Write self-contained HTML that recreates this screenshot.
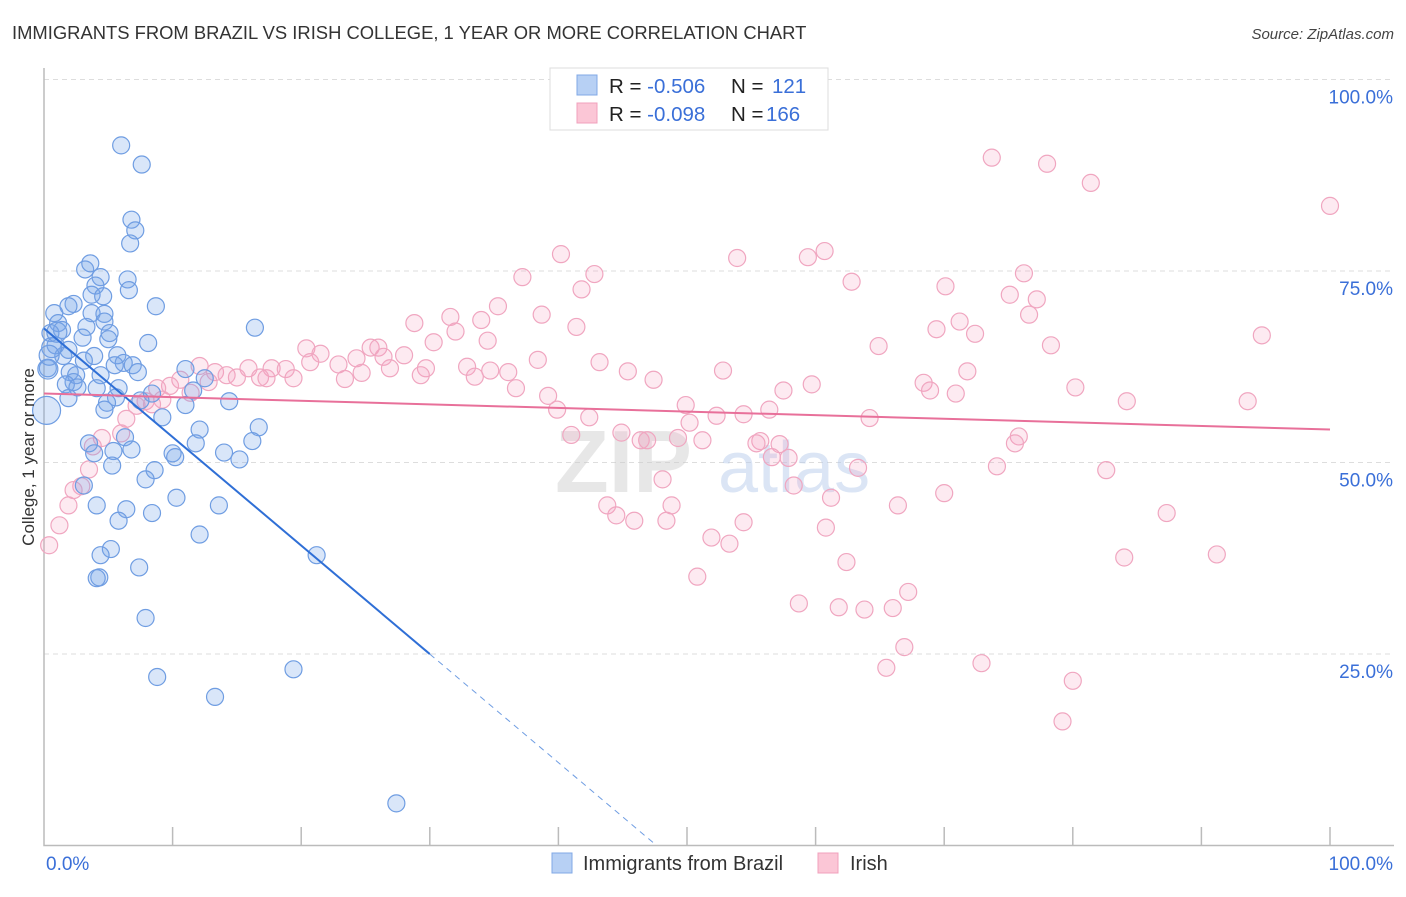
<!DOCTYPE html>
<html><head><meta charset="utf-8"><style>
body{margin:0;background:#fff;font-family:"Liberation Sans",sans-serif}
svg text{font-family:"Liberation Sans",sans-serif}
</style></head><body>
<svg id="chart" width="1406" height="892" viewBox="0 0 1406 892" xmlns="http://www.w3.org/2000/svg">
<text x="12" y="39" font-size="18.4" fill="#333">IMMIGRANTS FROM BRAZIL VS IRISH COLLEGE, 1 YEAR OR MORE CORRELATION CHART</text>
<text x="1394" y="39" font-size="15" fill="#444" text-anchor="end" font-style="italic">Source: ZipAtlas.com</text>
<g id="grid"></g>
<text x="555" y="492" font-size="88" fill="#ccc" opacity="0.45" font-weight="bold">ZIP</text>
<text x="718" y="492" font-size="72" fill="#b8cdec" opacity="0.5">atlas</text>
<g id="axes"></g>
<g id="pink"></g>
<g id="blue"></g>
<g id="lines"></g>
<text transform="translate(34,457) rotate(-90)" font-size="17" fill="#333" text-anchor="middle">College, 1 year or more</text>
<g>
<rect x="550" y="68" width="278" height="62" fill="#fff" stroke="#ddd"/>
<rect x="577" y="75" width="20" height="20" fill="#b7d0f4" stroke="#80a8e6"/>
<rect x="577" y="103" width="20" height="20" fill="#fbc6d6" stroke="#f0a0bc"/>
<text x="609" y="93" font-size="20.5" fill="#222">R = <tspan fill="#3a6fd8">-0.506</tspan><tspan x="731">N = </tspan><tspan x="772" fill="#3a6fd8">121</tspan></text>
<text x="609" y="121" font-size="20.5" fill="#222">R = <tspan fill="#3a6fd8">-0.098</tspan><tspan x="731">N = </tspan><tspan x="766" fill="#3a6fd8">166</tspan></text>
</g>
<g>
<rect x="552" y="853" width="20" height="20" fill="#b7d0f4" stroke="#80a8e6"/>
<text x="583" y="870" font-size="20" fill="#333">Immigrants from Brazil</text>
<rect x="818" y="853" width="20" height="20" fill="#fbc6d6" stroke="#f0a0bc"/>
<text x="850" y="870" font-size="20" fill="#333">Irish</text>
</g>
</svg>
<script>
const yTicks=[25,50,75,100];
const yTickLabels=["25.0%","50.0%","75.0%","100.0%"];
const xTicks=[0,10,20,30,40,50,60,70,80,90,100];
const blueX=[6.0,7.6,6.8,7.1,6.7,3.2,3.6,4.4,6.5,4.0,6.6,3.7,4.6,2.3,1.9,8.7,0.8,3.7,4.7,4.7,16.4,1.1,1.4,3.3,5.1,0.5,3.0,8.1,5.0,0.9,1.9,3.9,5.7,1.5,3.1,6.2,6.9,11.0,0.3,2.0,2.5,4.4,5.5,7.3,12.5,2.3,1.7,2.6,4.1,5.8,11.6,5.6,1.9,8.4,7.5,14.4,4.9,11.0,4.7,9.2,16.7,12.1,6.3,3.5,11.8,16.2,5.4,6.8,3.9,10.0,14.0,10.2,15.2,5.3,8.6,7.9,3.1,10.3,4.1,6.4,8.4,13.6,5.8,12.1,5.2,4.4,21.2,7.4,4.3,4.1,7.9,19.4,8.8,13.3,27.4,0.2,0.3,0.6,1.0,0.4];
const blueY=[91.4,88.9,81.7,80.3,78.6,75.2,76.0,74.2,73.9,73.1,72.5,71.9,71.7,70.7,70.4,70.4,69.5,69.5,69.4,68.4,67.6,68.2,67.3,67.7,66.9,66.9,66.3,65.6,66.1,65.3,64.7,63.9,64.0,63.9,63.3,63.0,62.7,62.2,62.3,61.8,61.4,61.4,62.7,61.8,61.0,60.5,60.2,59.8,59.7,59.7,59.4,58.5,58.4,59.0,58.1,58.0,57.8,57.5,56.9,55.9,54.6,54.3,53.3,52.5,52.5,52.8,51.5,51.7,51.2,51.2,51.3,50.7,50.4,49.6,49.0,47.8,47.0,45.4,44.4,43.9,43.4,44.4,42.4,40.6,38.7,37.9,37.9,36.3,35.0,34.9,29.7,23.0,22.0,19.4,5.5,56.8,62.2,65.0,67.0,64.0];
const pinkX=[73.7,78.0,81.4,100,40.2,60.7,59.4,53.9,37.2,42.8,62.8,76.2,70.1,41.8,75.1,77.2,35.3,38.7,76.6,31.6,34.0,71.2,28.8,41.4,69.4,32.0,72.4,94.7,34.5,30.3,64.9,78.3,20.4,25.4,26.0,21.5,28.0,38.4,24.3,26.4,43.2,32.9,20.7,22.9,12.1,29.7,52.8,71.8,34.7,45.4,13.3,15.9,17.7,18.8,36.1,14.2,15.0,16.8,19.4,24.7,26.9,29.3,33.5,10.6,12.8,9.8,17.3,23.4,47.4,68.4,59.7,80.2,36.7,57.5,68.9,8.8,11.4,70.9,9.2,7.9,39.2,84.2,93.6,7.2,49.9,39.9,56.4,8.4,52.3,54.4,42.4,50.2,6.4,6.0,64.2,4.5,41.0,44.9,49.3,75.8,75.5,46.4,46.9,51.2,55.7,57.2,3.8,55.4,56.6,57.9,3.5,63.3,74.1,82.6,58.3,48.1,2.9,2.3,70.0,61.2,43.8,48.8,66.4,1.9,44.5,87.3,48.4,54.4,45.9,60.8,1.2,51.9,53.3,0.4,84.0,91.2,62.4,50.8,67.2,58.7,61.8,63.8,66.0,66.9,65.5,72.9,80.0,79.2];
const pinkY=[89.8,89.0,86.5,83.5,77.2,77.6,76.8,76.7,74.2,74.6,73.6,74.7,73.0,72.6,71.9,71.3,70.4,69.3,69.3,69.0,68.6,68.4,68.2,67.7,67.4,67.1,66.8,66.6,65.9,65.7,65.2,65.3,64.9,65.0,65.0,64.2,64.0,63.4,63.6,63.8,63.1,62.5,63.1,62.8,62.6,62.3,62.0,61.9,62.0,61.9,61.8,62.3,62.3,62.2,61.8,61.4,61.1,61.1,61.0,61.7,62.3,61.4,61.2,60.8,60.5,60.0,61.0,60.9,60.8,60.4,60.2,59.8,59.7,59.4,59.4,59.7,59.1,59.0,58.2,58.0,58.7,58.0,58.0,57.4,57.5,56.9,56.9,57.6,56.1,56.3,55.9,55.2,55.7,53.8,55.8,53.2,53.6,53.9,53.2,53.4,52.5,52.9,52.9,52.9,52.8,52.4,52.1,52.5,50.7,50.6,49.1,49.3,49.5,49.0,47.0,47.8,46.9,46.4,46.0,45.4,44.4,44.4,44.4,44.4,43.1,43.4,42.4,42.2,42.4,41.5,41.8,40.2,39.4,39.2,37.6,38.0,37.0,35.1,33.1,31.6,31.1,30.8,31.0,25.9,23.2,23.8,21.5,16.2];
const blueTrend=[67.5,-141.7];  // intercept, slope per 100%
const pinkTrend=[59.0,-4.7];
const NS='http://www.w3.org/2000/svg';
const X=v=>44+v*12.86, Y=v=>845.5-v*7.66;
function mk(t,a,p){const e=document.createElementNS(NS,t);for(const k in a)e.setAttribute(k,a[k]);p.appendChild(e);return e;}
const grid=document.getElementById('grid'),axes=document.getElementById('axes');
yTicks.forEach((t,i)=>{
 const l=mk('line',{x1:44,x2:1394,y1:Y(t),y2:Y(t),stroke:'#ddd','stroke-dasharray':'5,4'},grid);
 
 
 const tx=mk('text',{x:1393,y:Y(t)+24,'font-size':19,fill:'#3a6fd8','text-anchor':'end'},axes);
 tx.textContent=yTickLabels[i];
 
 
});
const ax=mk('path',{d:'M44 68V845.5H1394',stroke:'#bbb',fill:'none','stroke-width':1.5},axes);


xTicks.forEach(t=>{if(t===0)return;
 const l=mk('line',{x1:X(t),x2:X(t),y1:827,y2:845.5,stroke:'#bbb','stroke-width':1.5},axes);
 
 
});
[['0.0%',46,'start'],['100.0%',1393,'end']].forEach(([s,x,a])=>{
 const t=mk('text',{x:x,y:870,'font-size':19,fill:'#3a6fd8','text-anchor':a},axes);t.textContent=s;
 
 
});
const pg=document.getElementById('pink'),bg=document.getElementById('blue');
pinkX.forEach((x,i)=>{const c=mk('circle',{cx:X(x),cy:Y(pinkY[i]),r:8.5,fill:'rgba(246,160,190,0.22)',stroke:'#f0a6c0','stroke-width':1.2},pg);
 
 });
blueX.forEach((x,i)=>{const big=i>=blueX.length-5;const c=mk('circle',{cx:X(x),cy:Y(blueY[i]),r:big?(i===blueX.length-5?14:10):8.5,fill:'rgba(120,165,235,0.28)',stroke:'#6f9de2','stroke-width':1.2},bg);
 
 });
const lg=document.getElementById('lines');
const by=v=>blueTrend[0]+blueTrend[1]*v/100, py=v=>pinkTrend[0]+pinkTrend[1]*v/100;
let l1=mk('line',{x1:X(0),y1:Y(by(0)),x2:X(30),y2:Y(by(30)),stroke:'#2f6fd6','stroke-width':2},lg);


const xe=-blueTrend[0]/blueTrend[1]*100;
let l2=mk('line',{x1:X(30),y1:Y(by(30)),x2:X(xe),y2:Y(0),stroke:'#6f9de2','stroke-width':1,'stroke-dasharray':'6,5'},lg);


let l3=mk('line',{x1:X(0),y1:Y(py(0)),x2:X(100),y2:Y(py(100)),stroke:'#e8709a','stroke-width':2},lg);


</script>
</body></html>
